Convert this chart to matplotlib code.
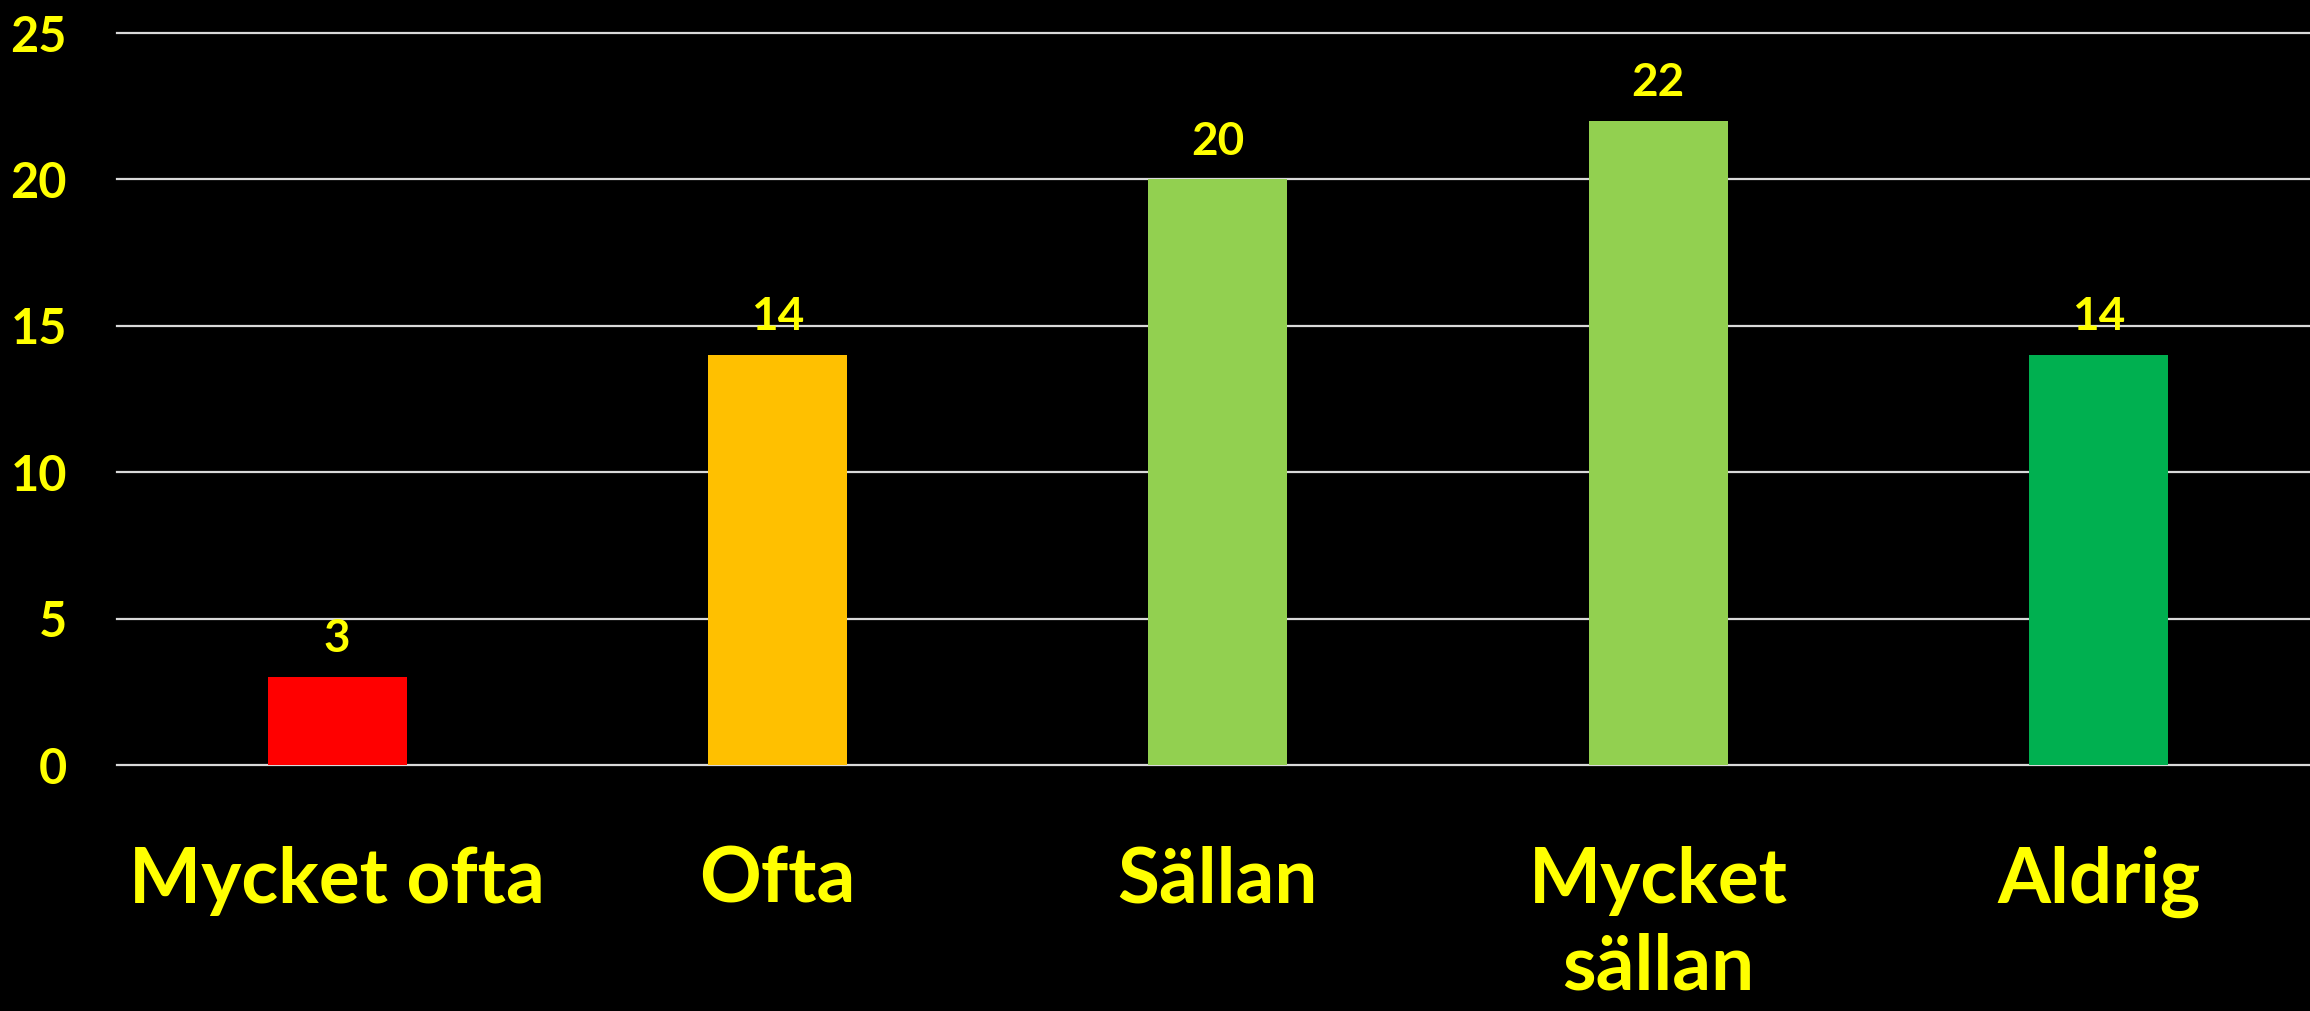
import matplotlib
matplotlib.use("Agg")
import matplotlib.pyplot as plt

categories = ["Mycket ofta", "Ofta", "Sällan", "Mycket\nsällan", "Aldrig"]
values = [3, 14, 20, 22, 14]
colors = ["#FF0000", "#FFC000", "#92D050", "#92D050", "#00B050"]
yticks = [0, 5, 10, 15, 20, 25]

yellow = "#FFFF00"
plt.rcParams["font.family"] = ["Lato", "DejaVu Sans"]
plt.rcParams["font.weight"] = "bold"

fig = plt.figure(figsize=(23.1, 10.11), dpi=100, facecolor="black")
# axes from x=117px to right edge, y from 0-line at 765px up to 25 at 33px
ax = fig.add_axes([117 / 2310, 1 - 765 / 1011, 1 - 117 / 2310, (765 - 33) / 1011])
ax.set_facecolor("black")

x = range(len(categories))
bars = ax.bar(x, values, width=0.316, color=colors, zorder=3)

ax.set_xlim(-0.5, 4.48)
ax.set_ylim(0, 25)
ax.set_yticks(yticks)
ax.set_yticklabels([str(t) for t in yticks], color=yellow, fontsize=35, fontweight="bold")
ax.tick_params(axis="y", length=0, pad=36)
ax.tick_params(axis="x", length=0)
ax.set_xticks([])

for t in yticks:
    ax.axhline(t, color="#D9D9D9", lw=1.6, zorder=1, clip_on=False)

for spine in ax.spines.values():
    spine.set_visible(False)

for xi, v in zip(x, values):
    ax.annotate(str(v), (xi, v), xytext=(0, 12), textcoords="offset points",
                ha="center", va="bottom", color=yellow, fontsize=33, fontweight="bold")

for xi, lab in zip(x, categories):
    ax.annotate(lab, (xi, 0), xytext=(0, -58), textcoords="offset points",
                ha="center", va="top", color=yellow, fontsize=55, fontweight="bold",
                linespacing=1.3)

fig.savefig("out.png", dpi=100, facecolor="black")
